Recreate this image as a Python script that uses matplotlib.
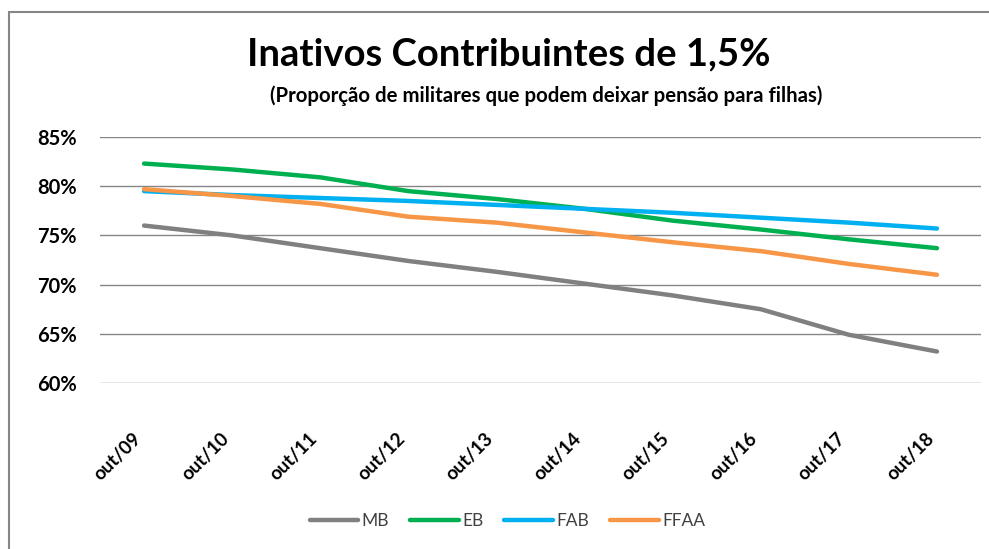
import matplotlib
matplotlib.use("Agg")
import matplotlib.pyplot as plt
from matplotlib.ticker import FuncFormatter
from matplotlib.patches import Rectangle
from matplotlib.transforms import ScaledTranslation

plt.rcParams['font.family'] = ['Lato', 'DejaVu Sans']

# dados (% de inativos contribuintes)
meses = ["out/09", "out/10", "out/11", "out/12", "out/13",
         "out/14", "out/15", "out/16", "out/17", "out/18"]
mb = [76.0, 75.0, 73.7, 72.4, 71.3, 70.1, 68.9, 67.5, 64.9, 63.2]
eb = [82.3, 81.7, 80.9, 79.5, 78.7, 77.7, 76.5, 75.6, 74.6, 73.7]
fab = [79.5, 79.1, 78.8, 78.5, 78.1, 77.7, 77.3, 76.8, 76.3, 75.7]
ffaa = [79.7, 79.0, 78.2, 76.9, 76.3, 75.3, 74.3, 73.4, 72.1, 71.0]

series = [("MB", mb, "#808080"), ("EB", eb, "#00B050"),
          ("FAB", fab, "#00B0F0"), ("FFAA", ffaa, "#F79646")]

fig = plt.figure(figsize=(9.89, 5.49), dpi=100)
ax = fig.add_axes([100 / 989, 1 - 383 / 549, 881 / 989, 246 / 549])

x = list(range(len(meses)))
for nome, vals, cor in series:
    ax.plot(x, vals, color=cor, lw=3.2, label=nome, solid_capstyle='round')

ax.set_xlim(-0.5, len(meses) - 0.5)
ax.set_ylim(60, 85)
ax.set_yticks([60, 65, 70, 75, 80, 85])
ax.yaxis.set_major_formatter(FuncFormatter(lambda v, p: f"{v:.0f}%"))
ax.grid(axis='y', color='#868686', lw=1)
ax.set_axisbelow(True)
for s in ax.spines.values():
    s.set_visible(False)
ax.tick_params(length=0)
ax.tick_params(axis='y', pad=16.5, labelsize=14.5)
ax.set_xticks(x)
ax.set_xticklabels(meses, rotation=45, ha='right', rotation_mode='anchor',
                   fontsize=13.5, fontweight='bold')
for t in ax.get_yticklabels():
    t.set_fontweight('bold')
ax.tick_params(axis='x', pad=14)
desloc = ScaledTranslation(-12 / 100, -27 / 100, fig.dpi_scale_trans)
for t in ax.get_xticklabels():
    t.set_transform(t.get_transform() + desloc)

fig.text(0.514, 1 - 54 / 549, "Inativos Contribuintes de 1,5%", ha='center',
         va='center', fontsize=27.5, fontweight='bold')
fig.text(0.552, 1 - 96 / 549,
         "(Proporção de militares que podem deixar pensão para filhas)",
         ha='center', va='center', fontsize=14.7, fontweight='bold')

leg = fig.legend(loc='center', bbox_to_anchor=(0.513, 1 - 521 / 549), ncol=4,
                 frameon=False, fontsize=12.5, handlelength=2.8,
                 handletextpad=0.2, columnspacing=1.2)
for t in leg.get_texts():
    t.set_color('#404040')

fig.patches.append(Rectangle((9 / 989, -0.1), 1.2, 1 - 12 / 549 + 0.1,
                             transform=fig.transFigure, fill=False,
                             edgecolor='#868686', lw=1.5))

fig.savefig("out.png", dpi=100)
